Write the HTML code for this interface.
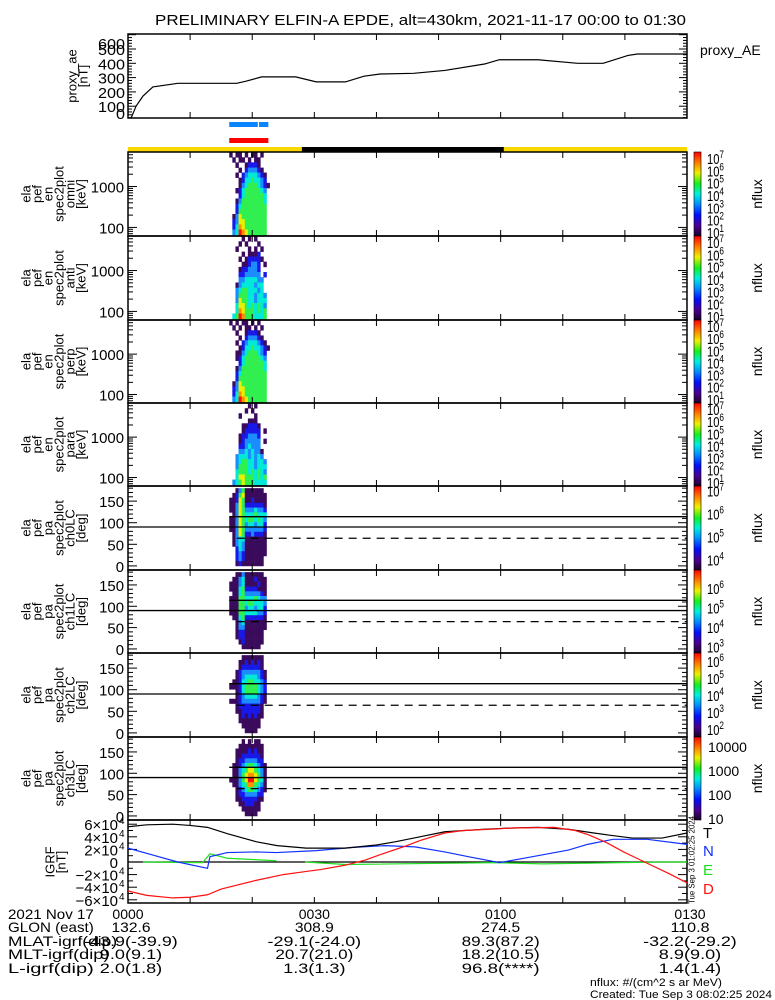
<!DOCTYPE html>
<html><head><meta charset="utf-8">
<style>
html,body{margin:0;padding:0;background:#fff;}
svg{display:block;font-family:"Liberation Sans",sans-serif;}
</style></head>
<body>
<svg id="fig" width="775" height="1000" viewBox="0 0 775 1000" xmlns="http://www.w3.org/2000/svg">
<defs>
<linearGradient id="cbar" x1="0" y1="1" x2="0" y2="0">
<stop offset="0" stop-color="#1a0028"/><stop offset="0.12" stop-color="#4a0090"/>
<stop offset="0.25" stop-color="#0010ff"/><stop offset="0.38" stop-color="#0090ff"/>
<stop offset="0.5" stop-color="#00f0e0"/><stop offset="0.62" stop-color="#10f020"/>
<stop offset="0.75" stop-color="#f0f000"/><stop offset="0.87" stop-color="#ff8000"/>
<stop offset="1" stop-color="#ff0000"/>
</linearGradient>
</defs>
<rect x="0" y="0" width="775" height="1000" fill="#fff"/>
</svg>
<script>
// ---------- data ----------
const aeTimes = [0.5,1.3,2.4,4,7.2,8,17.5,19,21.5,27,30.3,35,38,40.6,46,51,57.4,59.8,66,72.4,76.5,80.5,82,90];
const aeValues = [0,100,170,235,255,260,260,275,305,305,270,270,310,325,330,350,395,425,425,400,400,455,465,465];
const aeTicks = [0,100,200,300,400,500,600];

const igrfT_t = [0,3,7.2,10,12.8,16,20.7,24,28.7,35,40,43,47,51,57.4,62,66,70.9,75,78,81.2,86,90];
const igrfT_v = [5.6e4,5.9e4,6.0e4,5.8e4,5.5e4,4.5e4,3.2e4,2.6e4,2.2e4,2.2e4,2.7e4,3.2e4,4.0e4,4.8e4,5.2e4,5.4e4,5.5e4,5.2e4,4.6e4,4.2e4,3.8e4,3.8e4,4.6e4];
const igrfN_t = [0,4,8,12.8,13.2,16,20.7,23.9,30.3,36,41.4,46.2,51,55,59.8,63.8,70.9,74,78.1,83.6,90];
const igrfN_v = [2.2e4,1.1e4,0,-1.0e4,0.85e4,1.5e4,1.6e4,1.5e4,1.8e4,2.3e4,2.6e4,2.4e4,1.6e4,0.8e4,-0.1e4,0.6e4,1.9e4,2.8e4,3.6e4,3.6e4,2.8e4];
const igrfE1_t = [2.4,12,13.2,16,23.9];
const igrfE1_v = [0,-0.1e4,1.3e4,0.6e4,0.2e4];
const igrfE2_t = [28.5,35,59,66.7,86,90];
const igrfE2_v = [0,-0.4e4,-0.1e4,-0.3e4,0,0];
const igrfD_t = [0,3,7.2,10,12.8,15,20.7,25,28.7,31,35,38.2,41,44.6,47,51,54,58.2,62,68.6,72,74.2,77,79.8,83.8,87,90];
const igrfD_v = [-4.6e4,-5.3e4,-5.7e4,-5.6e4,-5.2e4,-4.3e4,-2.9e4,-2.0e4,-1.5e4,-1.2e4,-0.5e4,0.3e4,1.3e4,2.5e4,3.4e4,4.6e4,5.0e4,5.2e4,5.4e4,5.5e4,5.0e4,4.3e4,3.1e4,1.6e4,-0.3e4,-1.8e4,-3.3e4];
const igrfTicks = [-6,-4,-2,0,2,4,6];

const timeTickLabels = ["0000","0030","0100","0130"];
const timeTickMinutes = [0,30,60,90];
const glon = ["132.6","308.9","274.5","110.8"];
const mlat = ["-43.9(-39.9)","-29.1(-24.0)","89.3(87.2)","-32.2(-29.2)"];
const mlt = ["9.0(9.1)","20.7(21.0)","18.2(10.5)","8.9(9.0)"];
const lshell = ["2.0(1.8)","1.3(1.3)","96.8(****)","1.4(1.4)"];

const blueBar = [16.3,20.9,21.1,22.6];
const redBar = [16.3,22.6];
const nightStart = 28.0, nightEnd = 60.5;

const specTimes = [16.3,16.8,17.3,17.8,18.3,18.8,19.3,19.8,20.3,20.8,21.3,21.8,22.3,22.8];
const energyEdges = [7000,5200,3900,2900,2200,1650,1230,920,690,510,380,285,213,160,119,89,62];
const paEdges = [180,169,158,146,135,124,113,101,90,79,68,56,45,34,23,11,0];
const lcLines = [114,90];
const lcDashed = 64;

const specOmni = ["1011010110100","0101101011000","0010012221000","0001023332100","0010234443210","0001244544320","0001345554321","0012455555430","0002455555540","0013555555540","0024555555550","0025555555550","0136555555550","0236655555550","0247655555550","0348765555550"];
const specAnti = ["0000101010000","0001010001000","0010001010100","0000101112000","0001012222100","0000112332010","0001223332000","0002233333020","0003344443300","0013444434400","0034554443400","0035554434430","0036554434440","0046654545430","0047655545450","0458755544450"];
const specPerp = ["1010110101000","0101011010100","0010012221000","0001023332100","0010234443210","0001244544321","0011345554320","0012455555430","0002455555540","0013555555540","0024555555550","0025555555550","0136555555550","0236655555550","0247655555550","0348765555550"];
const specPara = ["0000001010000","0000010100000","0001000010000","0000001110000","0000112221000","0000122222010","0001223332000","0001233333010","0002234333000","0003343433100","0034443434300","0034554434430","0035554434440","0045554545430","0046655545450","0345655544440"];
const paCh0 = ["0013511111100","0125611111110","1126511211110","1136522222210","1136533343320","0136544454440","1136545545430","1136534434420","1136533333320","0136522322210","0134411111110","0134311111110","0024311111110","0023211111110","0023211111100","0012111111100"];
const paCh1 = ["0011311111100","0113411121110","1113411112110","1114522221110","0114533333210","1115544454330","1115545544430","1115534434420","1115544443320","0114522222210","0013411111110","0013311111110","0012211111100","0012211111100","0001211111100","0000111111000"];
const paCh2 = ["0000111111100","0001121212100","0001222222100","0012333333210","0012344443210","0112445544320","1112455554320","0012455554320","0012344443210","1112333333210","0012222222100","0011222222100","0001212121100","0001111111000","0000111111000","0000011110000"];
const paCh3 = ["0000101011000","0001111111100","0011112121100","0011222222100","0012233332200","0112345543210","0113456654310","0113567765310","1113568865410","0113457754310","0012345543210","0012233332200","0011222221100","0001122211000","0000111111000","0000011110000"];

const levelColors = ["none","#3a0a5c","#1818e8","#1a8cff","#00e8d8","#30f050","#e8f000","#ff9000","#ff1010"];

// ---------- helpers ----------
const NS="http://www.w3.org/2000/svg";
const svg=document.getElementById('fig');
const X0=128, X1=687;
function xs(t){return X0+(t/90)*(X1-X0);}
function mk(tag,attrs,parent){const e=document.createElementNS(NS,tag);for(const k in attrs)e.setAttribute(k,attrs[k]);(parent||svg).appendChild(e);return e;}
function txt(s,x,y,size,anchor,parent,len){const e=mk('text',{x:x,y:y,'font-size':size,'text-anchor':anchor||'start',fill:'#000'},parent);e.textContent=s;if(len){e.setAttribute('textLength',len);e.setAttribute('lengthAdjust','spacingAndGlyphs');}return e;}

let el=txt("PRELIMINARY ELFIN-A EPDE, alt=430km, 2021-11-17 00:00 to 01:30",155,25,15,'start',svg,531);



function timeTicks(T,B,g){
  for(let m=10;m<90;m+=10){
    const x=xs(m);
    mk('line',{x1:x,y1:B,x2:x,y2:B-6,stroke:'#000','stroke-width':1},g);
    mk('line',{x1:x,y1:T,x2:x,y2:T+6,stroke:'#000','stroke-width':1},g);
  }
}
function frame(T,B,g){
  mk('rect',{x:X0,y:T,width:X1-X0,height:B-T,fill:'none',stroke:'#000','stroke-width':1.5},g);
}
function rotLines(lines,xStart,cy,g){
  lines.forEach((s,i)=>{
    const x=xStart+i*11;
    const e=txt(s,0,0,13,'middle',g);
    e.setAttribute('transform','translate('+x+','+cy+') rotate(-90)');
    e.setAttribute('dominant-baseline','central');
  });
}

// ---------- AE panel ----------
const gAE=mk('g',{});


function yAE(v){return 120.5-0.143*v;}
frame(34,118,gAE);
timeTicks(34,118,gAE);
for(let v=0;v<=600;v+=20){const y=yAE(v);if(y<34||y>118)continue;const L=(v%100===0)?8:4;
  mk('line',{x1:X0,y1:y,x2:X0+L,y2:y,stroke:'#000'},gAE);mk('line',{x1:X1,y1:y,x2:X1-L,y2:y,stroke:'#000'},gAE);}
aeTicks.forEach(v=>{const y=Math.min(113,Math.max(43,yAE(v)));txt(String(v),125,y+6,15,'end',gAE,String(v).length*9);});
let aePts=aeTimes.map((t,i)=>xs(t)+','+Math.min(118,yAE(aeValues[i]))).join(' ');
el=mk('polyline',{points:aePts,fill:'none',stroke:'#000','stroke-width':1.2},gAE);


rotLines(["proxy_ae","[nT]"],72,76,gAE);
el=txt("proxy_AE",700,55,14,'start',gAE);



el=mk('rect',{x:xs(blueBar[0]),y:122,width:xs(blueBar[1])-xs(blueBar[0]),height:5,fill:'#0a84ff'});


el=mk('rect',{x:xs(blueBar[2]),y:122,width:xs(blueBar[3])-xs(blueBar[2]),height:5,fill:'#0a84ff'});


el=mk('rect',{x:xs(redBar[0]),y:138,width:xs(redBar[1])-xs(redBar[0]),height:5,fill:'#ff0000'});


el=mk('rect',{x:X0,y:147,width:X1-X0,height:5,fill:'#f8d800'});


el=mk('rect',{x:xs(nightStart),y:147,width:xs(nightEnd)-xs(nightStart),height:5,fill:'#000'});



// ---------- spectrogram panels ----------
const tops=[152,236,320,403,486,570,653,737,820];
const panels=[
 {kind:'en',data:specOmni,lab:["ela","pef","en","spec2plot","omni","[keV]"],cb:[0.66,7.5],cbl:[1,2,3,4,5,6,7],name:'omni'},
 {kind:'en',data:specAnti,lab:["ela","pef","en","spec2plot","anti","[keV]"],cb:[0.66,7.5],cbl:[1,2,3,4,5,6,7],name:'anti'},
 {kind:'en',data:specPerp,lab:["ela","pef","en","spec2plot","perp","[keV]"],cb:[0.66,7.5],cbl:[1,2,3,4,5,6,7],name:'perp'},
 {kind:'en',data:specPara,lab:["ela","pef","en","spec2plot","para","[keV]"],cb:[0.66,7.5],cbl:[1,2,3,4,5,6,7],name:'para'},
 {kind:'pa',data:paCh0,lab:["ela","pef","pa","spec2plot","ch0LC","[deg]"],cb:[3.55,7.2],cbl:[4,5,6,7],name:'ch0lc'},
 {kind:'pa',data:paCh1,lab:["ela","pef","pa","spec2plot","ch1LC","[deg]"],cb:[2.68,6.92],cbl:[3,4,5,6],name:'ch1lc'},
 {kind:'pa',data:paCh2,lab:["ela","pef","pa","spec2plot","ch2LC","[deg]"],cb:[1.53,6.47],cbl:[2,3,4,5,6],name:'ch2lc'},
 {kind:'pa',data:paCh3,lab:["ela","pef","pa","spec2plot","ch3LC","[deg]"],cb:[0.92,4.38],cbl:[1,2,3,4],plain:true,name:'ch3lc'}
];
panels.forEach((p,pi)=>{
  const T=tops[pi],B=tops[pi+1];
  const g=mk('g',{});
  
  
  const yE=e=>T+(3.845-Math.log10(e))/(3.845-1.79)*(B-T);
  const yP=a=>T+(185-a)/194.5*(B-T);
  const edges=p.kind==='en'?energyEdges.map(yE):paEdges.map(yP);
  p.data.forEach((row,r)=>{
    for(let c=0;c<row.length;c++){
      const lv=+row[c]; if(!lv) continue;
      const x=xs(specTimes[c]), w=xs(specTimes[c+1])-x;
      const cell=mk('rect',{x:x,y:edges[r],width:w+0.3,height:edges[r+1]-edges[r]+0.3,fill:levelColors[lv]},g);
      
      
    }
  });
  frame(T,B,g);
  timeTicks(T,B,g);
  if(p.kind==='en'){
    for(let d=1;d<=4;d++)for(let k=1;k<10;k++){const y=yE(k*Math.pow(10,d));if(y<T||y>B)continue;const L=k===1?9:5;
      mk('line',{x1:X0,y1:y,x2:X0+L,y2:y,stroke:'#000'},g);mk('line',{x1:X1,y1:y,x2:X1-L,y2:y,stroke:'#000'},g);}
    [100,1000].forEach(v=>txt(String(v),124,yE(v)+6,15,'end',g,String(v).length*8.3));
  }else{
    for(let a=0;a<=180;a+=10){const y=yP(a);const L=a%50===0?9:5;
      mk('line',{x1:X0,y1:y,x2:X0+L,y2:y,stroke:'#000'},g);mk('line',{x1:X1,y1:y,x2:X1-L,y2:y,stroke:'#000'},g);}
    [0,50,100,150].forEach(v=>txt(String(v),124,yP(v)+6,15,'end',g,String(v).length*8.3));
    lcLines.forEach((a,i)=>{const l=mk('line',{x1:i===0?xs(16.3):X0,y1:yP(a),x2:X1,y2:yP(a),stroke:'#000','stroke-width':1.3},g);
      
      });
    const dl=mk('line',{x1:xs(17.5),y1:yP(lcDashed),x2:X1,y2:yP(lcDashed),stroke:'#000','stroke-width':1.3,'stroke-dasharray':'8,6'},g);
    
    
  }
  rotLines(p.lab,26,(T+B)/2,g);
  const cb=mk('rect',{x:694,y:T,width:7,height:B-T,fill:'url(#cbar)',stroke:'#000','stroke-width':0.6},g);
  
  
  const yC=e=>B-(e-p.cb[0])/(p.cb[1]-p.cb[0])*(B-T);
  p.cbl.forEach(e=>{
    const y=yC(e)+6;
    if(p.plain){txt(String(Math.pow(10,e)),708,y,14,'start',g);}
    else{const t=txt("10",707,y,15,'start',g,17);const s=mk('tspan',{dy:-6,'font-size':11},t);s.textContent=String(e);}
  });
  const nf=txt("nflux",0,0,14,'middle',g);
  nf.setAttribute('transform','translate(757,'+((T+B)/2)+') rotate(-90)');
  nf.setAttribute('dominant-baseline','central');
  
  
});

// ---------- IGRF panel ----------
const gI=mk('g',{});


const IT=820,IB=903;
function yI(v){return 862-v*6.3/1e4;}
frame(IT,IB,gI);
timeTicks(IT,IB,gI);
mk('line',{x1:X0,y1:yI(0),x2:X1,y2:yI(0),stroke:'#000','stroke-width':1.3},gI);
for(let v=-6;v<=6;v+=1){const y=yI(v*1e4);if(y<IT||y>IB)continue;const L=v%2===0?9:5;
  mk('line',{x1:X0,y1:y,x2:X0+L,y2:y,stroke:'#000'},gI);mk('line',{x1:X1,y1:y,x2:X1-L,y2:y,stroke:'#000'},gI);}
igrfTicks.forEach(v=>{
  const y=yI(v*1e4)+6;
  if(v===0){txt("0",118,y,15,'end',gI);return;}
  txt((v<0?"\u2212":"")+Math.abs(v)+"\u00d710",118,y,15,'end',gI);
  txt("4",119,y-6,10,'start',gI);
});
function series(tt,vv,color,name){
  const l=mk('polyline',{points:tt.map((t,i)=>xs(t)+','+yI(vv[i])).join(' '),fill:'none',stroke:color,'stroke-width':1.2},gI);
  
  
}
series(igrfE1_t,igrfE1_v,'#20e020','igrf-e-line');
series(igrfE2_t,igrfE2_v,'#20e020','igrf-e-line-2');
series(igrfN_t,igrfN_v,'#1030ff','igrf-n-line');
series(igrfT_t,igrfT_v,'#000','igrf-t-line');
series(igrfD_t,igrfD_v,'#ff1010','igrf-d-line');
rotLines(["IGRF","[nT]"],50,862,gI);
[["T","#000",832],["N","#1030ff",850],["E","#20e020",869],["D","#ff1010",888]].forEach(a=>{
  const t=txt(a[0],703,a[2]+6,15,'start',gI);t.setAttribute('fill',a[1]);
  
  
});
const vt=txt("Tue Sep  3 01:02:25 2024",0,0,8,'middle',gI,88);
vt.setAttribute('transform','translate(692,860) rotate(-90)');
vt.setAttribute('dominant-baseline','central');

// ---------- bottom annotation ----------
const gB=mk('g',{});


const rowsY=[919,932,946,959,973];
const rowLabels=["2021 Nov 17","GLON (east)","MLAT-igrf(dip)","MLT-igrf(dip)","L-igrf(dip)"];
const rowVals=[timeTickLabels,glon,mlat,mlt,lshell];
rowLabels.forEach((s,i)=>txt(s,8,rowsY[i],14,'start',gB,s.length*7.8));
rowVals.forEach((arr,i)=>arr.forEach((s,j)=>{
  let cx=xs(timeTickMinutes[j]); if(j===3) cx=690;
  txt(s,cx+(j===0&&i>0?3:0),rowsY[i],14,'middle',gB,s.length*7.8);
}));
txt("nflux: #/(cm^2 s ar MeV)",590,986,11,'start',gB,132);
txt("Created: Tue Sep  3 08:02:25 2024",590,998,11,'start',gB,182);
</script>
</body></html>
